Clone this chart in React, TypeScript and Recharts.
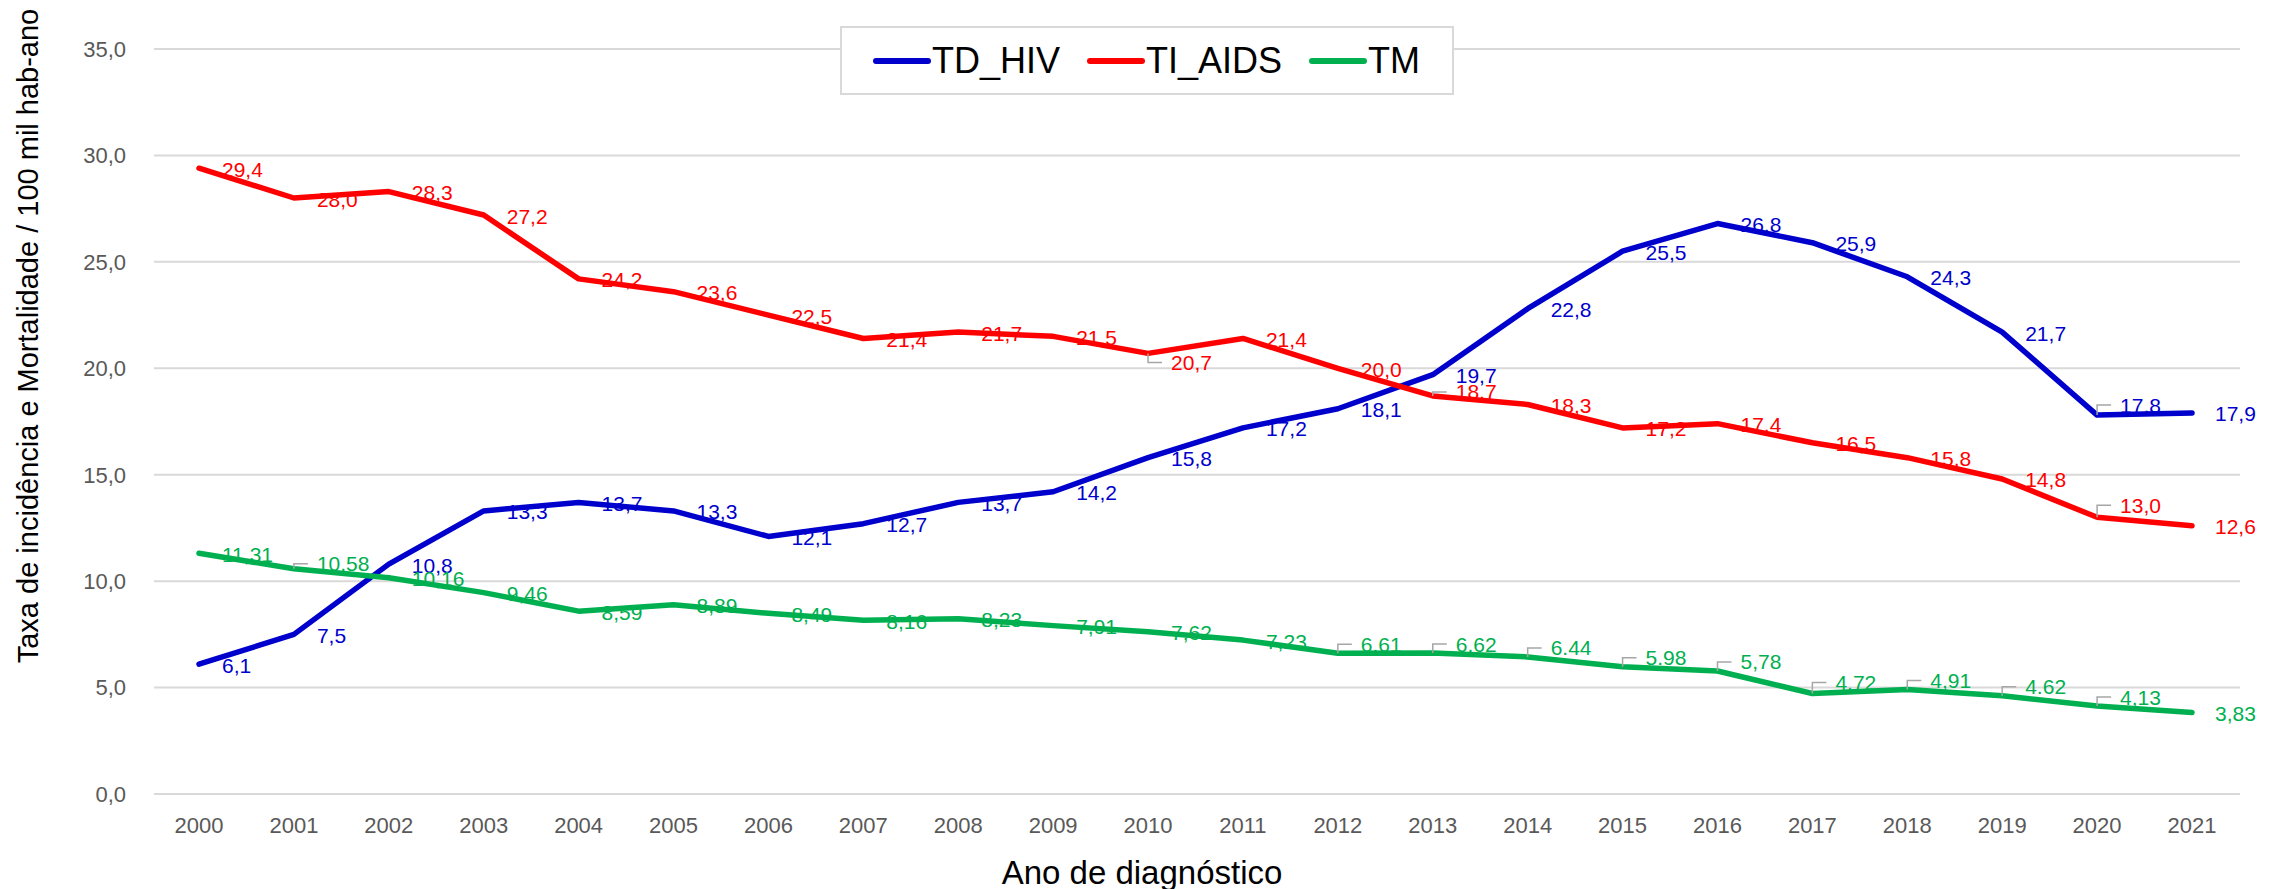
import React from 'react'
import { LineChart, Line, XAxis, YAxis, CartesianGrid, Legend, LabelList } from 'recharts'

const years = [
  '2000', '2001', '2002', '2003', '2004', '2005', '2006', '2007', '2008', '2009', '2010',
  '2011', '2012', '2013', '2014', '2015', '2016', '2017', '2018', '2019', '2020', '2021',
]
const tdHiv = [6.1, 7.5, 10.8, 13.3, 13.7, 13.3, 12.1, 12.7, 13.7, 14.2, 15.8, 17.2, 18.1, 19.7, 22.8, 25.5, 26.8, 25.9, 24.3, 21.7, 17.8, 17.9]
const tiAids = [29.4, 28.0, 28.3, 27.2, 24.2, 23.6, 22.5, 21.4, 21.7, 21.5, 20.7, 21.4, 20.0, 18.7, 18.3, 17.2, 17.4, 16.5, 15.8, 14.8, 13.0, 12.6]
const tm = [11.31, 10.58, 10.16, 9.46, 8.59, 8.89, 8.49, 8.16, 8.23, 7.91, 7.62, 7.23, 6.61, 6.62, 6.44, 5.98, 5.78, 4.72, 4.91, 4.62, 4.13, 3.83]
const yTicks = [0, 5, 10, 15, 20, 25, 30, 35]

// TM labels that were typed with a dot in the original sheet
const tmDotLabels = [12, 13, 14, 15, 17, 19]

const colors = { TD_HIV: '#0000CC', TI_AIDS: '#FF0000', TM: '#00B050' }

// labels moved by hand in the source chart (vertical shift, drawn with a leader line)
const leaderNudge: Record<string, Record<number, number>> = {
  TD_HIV: { 20: -10 },
  TI_AIDS: { 10: 9, 13: -4, 20: -12 },
  TM: { 1: -5, 12: -9, 13: -9, 14: -9, 15: -9, 16: -9, 17: -11, 18: -9, 19: -9, 20: -9 },
}

const data = years.map((year, i) => ({ year, TD_HIV: tdHiv[i], TI_AIDS: tiAids[i], TM: tm[i] }))

const FONT = '"Liberation Sans", Arial, sans-serif'

function makeLabel(key: 'TD_HIV' | 'TI_AIDS' | 'TM', digits: number) {
  return (props: any) => {
    const { x, y, value, index } = props
    if (x == null || y == null || value == null) return null
    const nudge = leaderNudge[key][index]
    const cy = y + (nudge ?? 1)
    let text = Number(value).toFixed(digits)
    if (!(key === 'TM' && tmDotLabels.includes(index))) text = text.replace('.', ',')
    return (
      <g key={`${key}-${index}`}>
        {nudge != null ? (
          <path d={`M${x},${y} V${cy} H${x + 14}`} stroke="#a6a6a6" strokeWidth={1.5} fill="none" />
        ) : null}
        <text x={x + 23} y={cy} fill={colors[key]} fontSize={21} fontFamily={FONT} dominantBaseline="central">
          {text}
        </text>
      </g>
    )
  }
}

function LegendBox() {
  const items: { key: keyof typeof colors; label: string }[] = [
    { key: 'TD_HIV', label: 'TD_HIV' },
    { key: 'TI_AIDS', label: 'TI_AIDS' },
    { key: 'TM', label: 'TM' },
  ]
  return (
    <div
      style={{
        boxSizing: 'border-box',
        width: 614,
        height: 69,
        border: '2px solid #d9d9d9',
        background: '#fff',
        display: 'flex',
        alignItems: 'center',
        justifyContent: 'flex-start',
        paddingLeft: 31,
        gap: 27,
        fontFamily: FONT,
        fontSize: 36,
        color: '#000',
      }}
    >
      {items.map((it) => (
        <div key={it.key} style={{ display: 'flex', alignItems: 'center' }}>
          <span style={{ display: 'inline-block', width: 58, height: 6, borderRadius: 3, background: colors[it.key], marginRight: 1 }} />
          <span>{it.label}</span>
        </div>
      ))}
    </div>
  )
}

export default function App() {
  return (
    <div style={{ position: 'absolute', left: 0, top: 0, width: 2282, height: 889, background: '#fff', fontFamily: FONT }}>
      <LineChart width={2282} height={889} data={data} margin={{ top: 49, right: 42, bottom: 65, left: 94 }}>
        <CartesianGrid vertical={false} stroke="#d9d9d9" strokeWidth={2} />
        <XAxis
          dataKey="year"
          height={30}
          padding={{ left: 45, right: 48 }}
          axisLine={{ stroke: '#d9d9d9', strokeWidth: 2 }}
          tickLine={false}
          tickMargin={17}
          interval={0}
          tick={{ fill: '#595959', fontSize: 22, fontFamily: FONT }}
        />
        <YAxis
          width={60}
          domain={[0, 35]}
          ticks={yTicks}
          axisLine={false}
          tickLine={false}
          tickMargin={22}
          tickFormatter={(v: number) => v.toFixed(1).replace('.', ',')}
          tick={{ fill: '#595959', fontSize: 22, fontFamily: FONT }}
        />
        <Legend
          layout="horizontal"
          verticalAlign="middle"
          align="center"
          content={() => <LegendBox />}
          wrapperStyle={{ left: 840, top: 26, width: 614, height: 69 }}
        />
        <Line dataKey="TD_HIV" stroke={colors.TD_HIV} strokeWidth={5.5} dot={false} strokeLinejoin="round" strokeLinecap="round" isAnimationActive={false}>
          <LabelList dataKey="TD_HIV" content={makeLabel('TD_HIV', 1)} />
        </Line>
        <Line dataKey="TI_AIDS" stroke={colors.TI_AIDS} strokeWidth={5.5} dot={false} strokeLinejoin="round" strokeLinecap="round" isAnimationActive={false}>
          <LabelList dataKey="TI_AIDS" content={makeLabel('TI_AIDS', 1)} />
        </Line>
        <Line dataKey="TM" stroke={colors.TM} strokeWidth={5.5} dot={false} strokeLinejoin="round" strokeLinecap="round" isAnimationActive={false}>
          <LabelList dataKey="TM" content={makeLabel('TM', 2)} />
        </Line>
      </LineChart>
      <div
        style={{
          position: 'absolute',
          left: 28,
          top: 336,
          transform: 'translate(-50%, -50%) rotate(-90deg)',
          whiteSpace: 'nowrap',
          fontSize: 29,
          color: '#000',
        }}
      >
        Taxa de incidência e Mortalidade / 100 mil hab-ano
      </div>
      <div
        style={{
          position: 'absolute',
          left: 1142,
          top: 873,
          transform: 'translate(-50%, -50%)',
          whiteSpace: 'nowrap',
          fontSize: 33,
          color: '#000',
        }}
      >
        Ano de diagnóstico
      </div>
    </div>
  )
}
